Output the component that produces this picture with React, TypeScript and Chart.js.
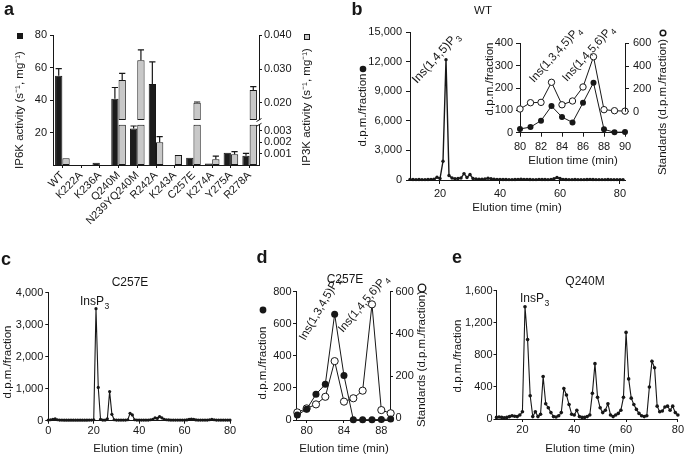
import React, { useEffect, useRef } from 'react';
import { Chart, registerables } from 'chart.js';

Chart.register(...registerables);

const W = 685;
const H = 455;
const FONT = '"Liberation Sans", Arial, Helvetica, sans-serif';
const INK = '#171717';
const GRAY = '#c8c8c8';

// ---------------- panel a ----------------
const aCategories = ['WT', 'K222A', 'K236A', 'Q240M', 'N239YQ240M', 'R242A', 'K243A', 'C257E', 'K274A', 'Y275A', 'R278A'];
const aIP6K = [55, 0, 1.4, 40.7, 22.4, 49.8, 0, 4.5, 1.0, 7.6, 5.7];
const aIP6KErr = [4.3, 0, 0, 7.0, 1.6, 13.7, 0, 0, 0, 0, 1.5];
const aIP3K = [0.00058, 0, 0, 0.0268, 0.0326, 0.00197, 0.00087, 0.0201, 0.0005, 0.00093, 0.0238];
const aIP3KErr = [0, 0, 0, 0.0019, 0.003, 0.00049, 0, 0.0002, 0.00028, 0.00023, 0.001];
const aIP6KTicks = [20, 40, 60, 80];
const aIP3KTicks = [0.001, 0.002, 0.003, 0.02, 0.03, 0.04];

// broken IP3K axis: lower segment 0-0.0035, upper segment 0.015-0.040
const IP3K_BREAK_LOW = 0.0035;
const IP3K_BREAK_HIGH = 0.015;
function ip3kToAxis(v: number) {
  return v <= IP3K_BREAK_LOW ? v * 11500 : 62 + (v - 0.02) * 3400;
}

// ---------------- panel b ----------------
const bTime = [
  10, 11, 12, 13, 14, 15, 16, 17, 18, 19,
  20, 21, 22, 23, 24, 25, 26, 27, 28, 29,
  30, 31, 32, 33, 34, 35, 36, 37, 38, 39,
  40, 41, 42, 43, 44, 45, 46, 47, 48, 49,
  50, 51, 52, 53, 54, 55, 56, 57, 58, 59,
  60, 61, 62, 63, 64, 65, 66, 67, 68, 69,
  70, 71, 72, 73, 74, 75, 76, 77, 78, 79,
  80, 81,
];
const bCounts = [
  60, 50, 40, 50, 40, 40, 50, 60, 80, 280,
  150, 1900, 12200, 450, 200, 120, 150, 200, 650, 250,
  550, 150, 100, 80, 80, 100, 180, 120, 80, 60,
  60, 50, 50, 40, 40, 50, 60, 80, 60, 60,
  50, 40, 40, 60, 50, 50, 40, 60, 120, 250,
  150, 60, 50, 40, 40, 50, 40, 40, 40, 50,
  60, 50, 40, 40, 40, 40, 50, 40, 40, 40,
  40, 40,
];
const bTicksX = [20, 40, 60, 80];
const bTicksY = [0, 3000, 6000, 9000, 12000, 15000];

const bInsetTime = [80, 81, 82, 83, 84, 85, 86, 87, 88, 89, 90];
const bInsetSample = [17, 25, 54, 119, 70, 46, 134, 224, 15, 2, 3];
const bInsetStandard = [24, 79, 82, 258, 61, 94, 217, 482, 18, 9, 5];
const bInsetTicksX = [80, 82, 84, 86, 88, 90];
const bInsetTicksY = [0, 100, 200, 300, 400];
const bInsetTicksStd = [0, 200, 400, 600];

// ---------------- panel c ----------------
const cTime = [
  0, 1, 2, 3, 4, 5, 6, 7, 8, 9,
  10, 11, 12, 13, 14, 15, 16, 17, 18, 19,
  20, 21, 22, 23, 24, 25, 26, 27, 28, 29,
  30, 31, 32, 33, 34, 35, 36, 37, 38, 39,
  40, 41, 42, 43, 44, 45, 46, 47, 48, 49,
  50, 51, 52, 53, 54, 55, 56, 57, 58, 59,
  60, 61, 62, 63, 64, 65, 66, 67, 68, 69,
  70, 71, 72, 73, 74, 75, 76, 77, 78, 79,
  80,
];
const cCounts = [
  20, 30, 40, 60, 30, 20, 20, 15, 15, 15,
  15, 15, 15, 15, 15, 15, 15, 15, 20, 20,
  30, 3500, 1040, 40, 20, 20, 60, 910, 200, 30,
  20, 20, 20, 20, 20, 30, 230, 180, 30, 20,
  20, 20, 20, 20, 20, 30, 40, 90, 70, 130,
  90, 40, 30, 25, 20, 20, 20, 20, 20, 20,
  20, 25, 40, 50, 40, 25, 20, 20, 20, 20,
  20, 30, 40, 30, 20, 20, 20, 20, 20, 20,
  20,
];
const cTicksX = [0, 20, 40, 60, 80];
const cTicksY = [0, 1000, 2000, 3000, 4000];

// ---------------- panel d ----------------
const dTime = [79, 80, 81, 82, 83, 84, 85, 86, 87, 88, 89];
const dSample = [31, 67, 160, 223, 660, 277, 2, 2, 2, 3, 6];
const dStandard = [28, 47, 66, 102, 271, 79, 95, 131, 540, 39, 24];
const dTicksX = [80, 84, 88];
const dTicksY = [0, 200, 400, 600, 800];
const dTicksStd = [0, 200, 400, 600];

// ---------------- panel e ----------------
const eTime = [
  10, 11, 12, 13, 14, 15, 16, 17, 18, 19,
  20, 21, 22, 23, 24, 25, 26, 27, 28, 29,
  30, 31, 32, 33, 34, 35, 36, 37, 38, 39,
  40, 41, 42, 43, 44, 45, 46, 47, 48, 49,
  50, 51, 52, 53, 54, 55, 56, 57, 58, 59,
  60, 61, 62, 63, 64, 65, 66, 67, 68, 69,
  70, 71, 72, 73, 74, 75, 76, 77, 78, 79,
  80,
];
const eCounts = [
  20, 25, 20, 15, 20, 30, 40, 35, 30, 50,
  90, 1400, 990, 290, 30, 90, 30, 60, 530, 190,
  140, 80, 30, 25, 40, 80, 380, 300, 180, 60,
  50, 110, 30, 20, 20, 30, 50, 320, 690, 270,
  140, 80, 110, 190, 50, 30, 50, 70, 110, 270,
  1080, 500, 260, 180, 120, 70, 40, 30, 40, 400,
  720, 640, 160, 90, 100, 150, 160, 110, 160, 80,
  50,
];
const eTicksX = [20, 40, 60, 80];
const eTicksY = [0, 400, 800, 1200, 1600];

// ---------------- helpers ----------------
type TItem = {
  text?: string;
  sub?: string;
  marker?: 'square' | 'circle' | 'ocircle';
  x: number;
  y: number;
  rot?: number;
  size?: number;
  bold?: boolean;
  align?: 'left' | 'center' | 'right';
  base?: CanvasTextBaseline;
  fill?: string;
  r?: number;
  lw?: number;
};

function textPlugin(id: string, items: TItem[]) {
  return {
    id,
    afterDraw(chart: any) {
      const ctx: CanvasRenderingContext2D = chart.ctx;
      for (const it of items) {
        ctx.save();
        ctx.translate(it.x, it.y);
        if (it.rot) ctx.rotate((it.rot * Math.PI) / 180);
        if (it.marker) {
          const r = it.r ?? 3;
          ctx.strokeStyle = INK;
          ctx.lineWidth = it.lw ?? 1;
          if (it.marker === 'square') {
            ctx.fillStyle = it.fill ?? INK;
            ctx.fillRect(-r, -r, 2 * r, 2 * r);
            ctx.strokeRect(-r + 0.5, -r + 0.5, 2 * r - 1, 2 * r - 1);
          } else {
            ctx.beginPath();
            ctx.arc(0, 0, r, 0, Math.PI * 2);
            if (it.marker === 'circle') {
              ctx.fillStyle = INK;
              ctx.fill();
            } else {
              ctx.fillStyle = '#fff';
              ctx.fill();
              ctx.stroke();
            }
          }
        } else if (it.text) {
          const size = it.size ?? 11.5;
          const font = `${it.bold ? 'bold ' : ''}${size}px ${FONT}`;
          const subFont = `${(size * 0.72).toFixed(1)}px ${FONT}`;
          ctx.fillStyle = INK;
          ctx.textBaseline = it.base ?? 'middle';
          ctx.textAlign = 'left';
          ctx.font = font;
          const w = ctx.measureText(it.text).width;
          let sw = 0;
          if (it.sub) {
            ctx.font = subFont;
            sw = ctx.measureText(it.sub).width;
            ctx.font = font;
          }
          const total = w + sw;
          const align = it.align ?? 'center';
          const x0 = align === 'center' ? -total / 2 : align === 'right' ? -total : 0;
          ctx.fillText(it.text, x0, 0);
          if (it.sub) {
            ctx.font = subFont;
            ctx.fillText(it.sub, x0 + w + 0.5, size * 0.32);
          }
        }
        ctx.restore();
      }
    },
  };
}

function fixedTicks(vals: number[]) {
  return (s: any) => {
    s.ticks = vals.map((v) => ({ value: v }));
  };
}

function axisStyle(tl: number, pad: number) {
  return {
    grid: { drawOnChartArea: false, drawTicks: true, tickLength: tl, color: INK, lineWidth: 1 },
    border: { display: true, color: INK, width: 1 },
    ticks: { font: { family: FONT, size: 11 }, color: INK, padding: pad, maxRotation: 0, autoSkip: false },
  };
}

type Box = { x0: number; y0: number; x1: number; y1: number };
type AxisSpec = { min: number; max: number; ticks: number[]; tl: number; pad: number; border?: boolean };

function series(xs: number[], ys: number[], o: { r: number; lw: number; open?: boolean; axis?: string }) {
  return {
    data: xs.map((x, i) => ({ x, y: ys[i] })),
    borderColor: INK,
    borderWidth: o.lw,
    pointRadius: o.r,
    pointBackgroundColor: o.open ? '#ffffff' : INK,
    pointBorderColor: INK,
    pointBorderWidth: o.open ? 1 : 0,
    tension: 0,
    clip: false,
    yAxisID: o.axis ?? 'y',
  };
}

function buildLine(
  cv: HTMLCanvasElement,
  o: { box: Box; x: AxisSpec; y: AxisSpec; y2?: AxisSpec; datasets: any[]; texts: TItem[]; id: string; plugins?: any[] }
) {
  const scales: any = {
    x: {
      type: 'linear',
      position: 'bottom',
      min: o.x.min,
      max: o.x.max,
      afterFit: (s: any) => {
        s.height = H - o.box.y1;
      },
      afterBuildTicks: fixedTicks(o.x.ticks),
      ...axisStyle(o.x.tl, o.x.pad),
    },
    y: {
      type: 'linear',
      position: 'left',
      min: o.y.min,
      max: o.y.max,
      afterFit: (s: any) => {
        s.width = o.box.x0;
      },
      afterBuildTicks: fixedTicks(o.y.ticks),
      ...axisStyle(o.y.tl, o.y.pad),
    },
  };
  if (o.y2) {
    const st = axisStyle(o.y2.tl, o.y2.pad);
    scales.y2 = {
      type: 'linear',
      position: 'right',
      min: o.y2.min,
      max: o.y2.max,
      afterFit: (s: any) => {
        s.width = W - o.box.x1;
      },
      afterBuildTicks: fixedTicks(o.y2.ticks),
      ...st,
      border: { ...st.border, display: o.y2.border !== false },
    };
  }
  return new Chart(cv, {
    type: 'line',
    data: { datasets: o.datasets },
    options: {
      responsive: false,
      animation: false,
      events: [],
      layout: { autoPadding: false, padding: { left: 0, top: o.box.y0, right: o.y2 ? 0 : W - o.box.x1, bottom: 0 } },
      plugins: { legend: { display: false }, tooltip: { enabled: false } },
      scales,
    } as any,
    plugins: [textPlugin(o.id, o.texts), ...(o.plugins ?? [])],
  });
}

// ---------------- panel builders ----------------
function buildA(cv: HTMLCanvasElement) {
  const box = { x0: 53, y0: 35, x1: 259, y1: 165 };
  const low = aIP3K.map((v) => (v > 0 ? [0, ip3kToAxis(Math.min(v, IP3K_BREAK_LOW))] : null));
  const high = aIP3K.map((v) => (v > IP3K_BREAK_HIGH ? [ip3kToAxis(IP3K_BREAK_HIGH), ip3kToAxis(v)] : null));
  const decor = {
    id: 'aDecor',
    afterDatasetsDraw(chart: any) {
      const ctx: CanvasRenderingContext2D = chart.ctx;
      const y = chart.scales.y;
      const y2 = chart.scales.y2;
      const mk = chart.getDatasetMeta(0);
      const mg = chart.getDatasetMeta(1);
      ctx.save();
      ctx.strokeStyle = INK;
      ctx.lineWidth = 1.2;
      const draw = (x: number, yTop: number, yEnd: number, w: number) => {
        ctx.beginPath();
        ctx.moveTo(x, yTop);
        ctx.lineTo(x, yEnd);
        ctx.moveTo(x - w / 2, yEnd);
        ctx.lineTo(x + w / 2, yEnd);
        ctx.stroke();
      };
      aIP6K.forEach((v, i) => {
        const e = aIP6KErr[i];
        if (e > 0) {
          const el = mk.data[i];
          draw(el.x, y.getPixelForValue(v), y.getPixelForValue(v + e), el.width * 0.85);
        }
      });
      aIP3K.forEach((v, i) => {
        const e = aIP3KErr[i];
        if (e > 0) {
          const el = mg.data[i];
          draw(el.x, y2.getPixelForValue(ip3kToAxis(v)), y2.getPixelForValue(ip3kToAxis(v + e)), el.width * 0.85);
        }
      });
      ctx.restore();
    },
    afterDraw(chart: any) {
      const ctx: CanvasRenderingContext2D = chart.ctx;
      const y2 = chart.scales.y2;
      const x = chart.chartArea.right;
      const yA = y2.getPixelForValue(ip3kToAxis(IP3K_BREAK_LOW));
      const yB = y2.getPixelForValue(ip3kToAxis(IP3K_BREAK_HIGH));
      ctx.save();
      ctx.fillStyle = '#fff';
      ctx.fillRect(x - 2, yB, 4, yA - yB);
      ctx.strokeStyle = INK;
      ctx.lineWidth = 1;
      ctx.beginPath();
      ctx.moveTo(x - 2.5, yB + 1.5);
      ctx.lineTo(x + 2.5, yB - 1.5);
      ctx.moveTo(x - 2.5, yA + 1.5);
      ctx.lineTo(x + 2.5, yA - 1.5);
      ctx.stroke();
      ctx.restore();
    },
  };
  const yStyle = axisStyle(3, 3);
  const y2Style = axisStyle(3, 2);
  const xStyle = axisStyle(3, 1);
  return new Chart(cv, {
    type: 'bar',
    data: {
      labels: aCategories,
      datasets: [
        { data: aIP6K, yAxisID: 'y', stack: 'k', backgroundColor: '#1c1c1c', borderColor: INK, borderWidth: 1 },
        { data: low as any, yAxisID: 'y2', stack: 'g', backgroundColor: GRAY, borderColor: INK, borderWidth: 1, borderSkipped: false },
        { data: high as any, yAxisID: 'y2', stack: 'g', backgroundColor: GRAY, borderColor: INK, borderWidth: 1, borderSkipped: false },
      ],
    },
    options: {
      responsive: false,
      animation: false,
      events: [],
      categoryPercentage: 0.78,
      barPercentage: 1.0,
      layout: { autoPadding: false, padding: { left: 0, top: box.y0, right: 0, bottom: 0 } },
      plugins: { legend: { display: false }, tooltip: { enabled: false } },
      scales: {
        x: {
          type: 'category',
          offset: true,
          afterFit: (s: any) => {
            s.height = H - box.y1;
          },
          ...xStyle,
          grid: { ...xStyle.grid, offset: false },
          ticks: { ...xStyle.ticks, minRotation: 45, maxRotation: 45 },
        },
        y: {
          type: 'linear',
          position: 'left',
          stacked: false,
          min: 0,
          max: 80,
          afterFit: (s: any) => {
            s.width = box.x0;
          },
          afterBuildTicks: fixedTicks(aIP6KTicks),
          ...yStyle,
        },
        y2: {
          type: 'linear',
          position: 'right',
          stacked: false,
          min: 0,
          max: ip3kToAxis(0.04),
          afterFit: (s: any) => {
            s.width = W - box.x1;
          },
          afterBuildTicks: fixedTicks(aIP3KTicks.map(ip3kToAxis)),
          ...y2Style,
          ticks: { ...y2Style.ticks, callback: (_v: any, i: number) => aIP3KTicks[i].toFixed(3) },
        },
      },
    } as any,
    plugins: [
      decor,
      textPlugin('aTexts', [
        { text: 'a', x: 9, y: 10, size: 18, bold: true },
        { text: 'IP6K activity (s⁻¹, mg⁻¹)', x: 20, y: 110, rot: -90 },
        { marker: 'square', x: 20, y: 36, r: 3, fill: INK },
        { text: 'IP3K activity (s⁻¹, mg⁻¹)', x: 307, y: 107, rot: -90 },
        { marker: 'square', x: 307, y: 37, r: 3, fill: GRAY },
      ]),
    ],
  });
}

function buildBMain(cv: HTMLCanvasElement) {
  return buildLine(cv, {
    id: 'bTexts',
    box: { x0: 410, y0: 32, x1: 625, y1: 180 },
    x: { min: 10, max: 81.67, ticks: bTicksX, tl: 4, pad: 3 },
    y: { min: 0, max: 15000, ticks: bTicksY, tl: 4, pad: 4 },
    datasets: [series(bTime, bCounts, { r: 1.7, lw: 1.4 })],
    texts: [
      { text: 'b', x: 357, y: 10, size: 18, bold: true },
      { text: 'WT', x: 483, y: 11 },
      { text: 'd.p.m./fraction', x: 363, y: 110, rot: -90 },
      { marker: 'circle', x: 363, y: 69, r: 3.3 },
      { text: 'Elution time (min)', x: 517, y: 208 },
      { text: 'Ins(1,4,5)P', sub: '3', x: 417, y: 84, rot: -48, align: 'left', base: 'alphabetic', size: 12 },
    ],
  });
}

function buildBInset(cv: HTMLCanvasElement) {
  const rightLine = {
    id: 'bInsetRight',
    afterDraw(chart: any) {
      const ctx: CanvasRenderingContext2D = chart.ctx;
      const s = chart.scales.y2;
      const x = Math.round(chart.chartArea.right) + 0.5;
      ctx.save();
      ctx.strokeStyle = INK;
      ctx.lineWidth = 1;
      ctx.beginPath();
      ctx.moveTo(x, s.getPixelForValue(bInsetTicksStd[bInsetTicksStd.length - 1]));
      ctx.lineTo(x, s.getPixelForValue(bInsetTicksStd[0]));
      ctx.stroke();
      ctx.restore();
    },
  };
  return buildLine(cv, {
    id: 'bInsetTexts',
    box: { x0: 520, y0: 43.3, x1: 625, y1: 132.7 },
    x: { min: 80, max: 90, ticks: bInsetTicksX, tl: 4, pad: 4 },
    y: { min: 0, max: 400, ticks: bInsetTicksY, tl: 4, pad: 3 },
    y2: { min: -184, max: 600, ticks: bInsetTicksStd, tl: 4, pad: 4, border: false },
    datasets: [
      series(bInsetTime, bInsetSample, { r: 3, lw: 1 }),
      series(bInsetTime, bInsetStandard, { r: 3.2, lw: 1, open: true, axis: 'y2' }),
    ],
    plugins: [rightLine],
    texts: [
      { text: 'd.p.m./fraction', x: 490, y: 79, rot: -90 },
      { text: 'Standards (d.p.m./fraction)', x: 663, y: 107, rot: -90 },
      { marker: 'ocircle', x: 663, y: 33, r: 2.8, lw: 1.5 },
      { text: 'Elution time (min)', x: 573, y: 161 },
      { text: 'Ins(1,3,4,5)P', sub: '4', x: 534, y: 83, rot: -48, align: 'left', base: 'alphabetic' },
      { text: 'Ins(1,4,5,6)P', sub: '4', x: 567, y: 82, rot: -48, align: 'left', base: 'alphabetic' },
    ],
  });
}

function buildC(cv: HTMLCanvasElement) {
  return buildLine(cv, {
    id: 'cTexts',
    box: { x0: 48.3, y0: 292.7, x1: 230, y1: 420.7 },
    x: { min: 0, max: 80, ticks: cTicksX, tl: 3, pad: 1 },
    y: { min: 0, max: 4000, ticks: cTicksY, tl: 3, pad: 2 },
    datasets: [series(cTime, cCounts, { r: 1.6, lw: 1.1 })],
    texts: [
      { text: 'c', x: 6, y: 260, size: 18, bold: true },
      { text: 'C257E', x: 130, y: 283, size: 12 },
      { text: 'InsP', sub: '3', x: 80, y: 305, align: 'left', base: 'alphabetic', size: 12 },
      { text: 'd.p.m./fraction', x: 8, y: 362, rot: -90 },
      { text: 'Elution time (min)', x: 138, y: 449 },
    ],
  });
}

function buildD(cv: HTMLCanvasElement) {
  return buildLine(cv, {
    id: 'dTexts',
    box: { x0: 296, y0: 291.7, x1: 390, y1: 420 },
    x: { min: 78.86, max: 88.93, ticks: dTicksX, tl: 3, pad: 1 },
    y: { min: 0, max: 800, ticks: dTicksY, tl: 3, pad: 1.5 },
    y2: { min: -8, max: 600, ticks: dTicksStd, tl: 3, pad: 2.5 },
    datasets: [
      series(dTime, dSample, { r: 3.5, lw: 1 }),
      series(dTime, dStandard, { r: 3.6, lw: 1, open: true, axis: 'y2' }),
    ],
    texts: [
      { text: 'd', x: 262, y: 258, size: 18, bold: true },
      { text: 'C257E', x: 345, y: 280, size: 12 },
      { text: 'd.p.m./fraction', x: 263, y: 363, rot: -90 },
      { marker: 'circle', x: 263, y: 310, r: 3.4 },
      { text: 'Standards (d.p.m./fraction)', x: 422, y: 359, rot: -90 },
      { marker: 'ocircle', x: 422, y: 288, r: 3.8, lw: 1.3 },
      { text: 'Elution time (min)', x: 344, y: 449 },
      { text: 'Ins(1,3,4,5)P', sub: '4', x: 305, y: 341, rot: -60, align: 'left', base: 'alphabetic' },
      { text: 'Ins(1,4,5,6)P', sub: '4', x: 343, y: 333, rot: -50, align: 'left', base: 'alphabetic' },
    ],
  });
}

function buildE(cv: HTMLCanvasElement) {
  return buildLine(cv, {
    id: 'eTexts',
    box: { x0: 496.5, y0: 290.7, x1: 682, y1: 419 },
    x: { min: 10, max: 80, ticks: eTicksX, tl: 3, pad: 1 },
    y: { min: 0, max: 1600, ticks: eTicksY, tl: 3, pad: 1 },
    datasets: [series(eTime, eCounts, { r: 1.8, lw: 1.1 })],
    texts: [
      { text: 'e', x: 457, y: 258, size: 18, bold: true },
      { text: 'Q240M', x: 585, y: 282, size: 12 },
      { text: 'InsP', sub: '3', x: 520, y: 302, align: 'left', base: 'alphabetic', size: 12 },
      { text: 'd.p.m./fraction', x: 458, y: 356, rot: -90 },
      { text: 'Elution time (min)', x: 590, y: 449 },
    ],
  });
}

export default function App() {
  const r0 = useRef<HTMLCanvasElement>(null);
  const r1 = useRef<HTMLCanvasElement>(null);
  const r2 = useRef<HTMLCanvasElement>(null);
  const r3 = useRef<HTMLCanvasElement>(null);
  const r4 = useRef<HTMLCanvasElement>(null);
  const r5 = useRef<HTMLCanvasElement>(null);
  const refs = [r0, r1, r2, r3, r4, r5];

  useEffect(() => {
    const charts = [
      buildA(r0.current!),
      buildBMain(r1.current!),
      buildBInset(r2.current!),
      buildC(r3.current!),
      buildD(r4.current!),
      buildE(r5.current!),
    ];
    return () => charts.forEach((c) => c.destroy());
  }, []);

  return (
    <div style={{ position: 'absolute', left: 0, top: 0, width: W, height: H, background: '#ffffff', overflow: 'hidden' }}>
      {refs.map((r, i) => (
        <canvas
          key={i}
          ref={r}
          width={W}
          height={H}
          style={{ position: 'absolute', left: 0, top: 0, width: W, height: H }}
        />
      ))}
    </div>
  );
}
